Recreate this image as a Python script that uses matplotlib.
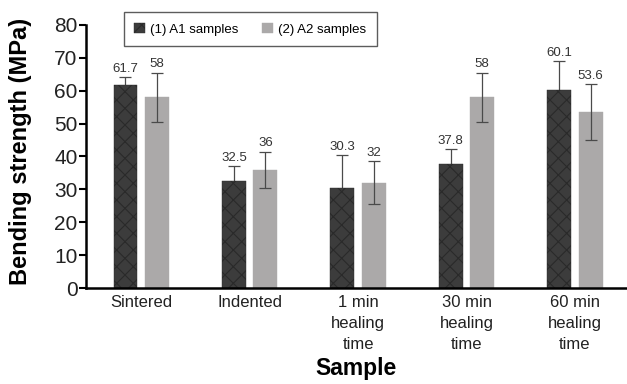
import numpy as np
import matplotlib
matplotlib.use("Agg")
import matplotlib.pyplot as plt

plt.rcParams['font.family'] = ['Liberation Sans', 'DejaVu Sans']
plt.rcParams['hatch.color'] = 'black'
plt.rcParams['hatch.linewidth'] = 0.8

# Veriler
samples = ["Sintered", "Indented", "1 min\nhealing\ntime", "30 min\nhealing\ntime", "60 min\nhealing\ntime"]
a1_values = [61.7, 32.5, 30.3, 37.8, 60.1]
a2_values = [58, 36, 32, 58, 53.6]
a1_err = [2.5, 4.5, 10.0, 4.5, 9.0]
a2_err = [7.5, 5.5, 6.5, 7.5, 8.5]
series_names = ["(1) A1 samples", "(2) A2 samples"]

fig = plt.figure(figsize=(6.27, 3.84), dpi=100)
ax = fig.add_axes([0.137, 0.25, 0.863, 0.685])

x = np.arange(len(samples))
w = 0.22
off = 0.145

b1 = ax.bar(x - off, a1_values, w, color='#3c3c3c', edgecolor='#2a2a2a', linewidth=0.3,
            hatch='xx', label=series_names[0], zorder=2)
b2 = ax.bar(x + off, a2_values, w, color='#aba9a9', edgecolor='#aba9a9', linewidth=0.3,
            label=series_names[1], zorder=2)

# A1 hata çubukları koyu çubuğun arkasında kalıyor
ax.errorbar(x - off, a1_values, yerr=a1_err, fmt='none', ecolor='#4a4a4a', elinewidth=0.9,
            capsize=4, capthick=0.9, zorder=1)
ax.errorbar(x + off, a2_values, yerr=a2_err, fmt='none', ecolor='#4a4a4a', elinewidth=0.9,
            capsize=4, capthick=0.9, zorder=3)

# Değer etiketleri
for xi, v, e in zip(x - off, a1_values, a1_err):
    ax.text(xi, v + e + 2.5, f"{v:g}", ha='center', va='center', fontsize=9.5, color='#333333')
for xi, v, e in zip(x + off, a2_values, a2_err):
    ax.text(xi, v + e + 2.5, f"{v:g}", ha='center', va='center', fontsize=9.5, color='#333333')

ax.set_xlim(-0.51, 4.48)
ax.set_ylim(0, 80)
ax.set_yticks(range(0, 81, 10))
ax.set_xticks(x)
ax.set_xticklabels(samples, fontsize=12, linespacing=1.5, color='#222222')
ax.tick_params(axis='x', length=0, pad=5)
ax.tick_params(axis='y', labelsize=15, length=5, width=1.5, pad=1, labelcolor='#222222')

for s in ['top', 'right']:
    ax.spines[s].set_visible(False)
ax.spines['left'].set_linewidth(1.8)
ax.spines['bottom'].set_linewidth(1.8)

ax.set_ylabel("Bending strength (MPa)", fontsize=17, fontweight='bold')
ax.yaxis.set_label_coords(-0.10, 0.52)
ax.set_xlabel("Sample", fontsize=16.5, fontweight='bold', labelpad=4)

leg = fig.legend(handles=[b1, b2], loc='upper left', bbox_to_anchor=(0.187, 0.985), ncol=2,
                 fontsize=9.5, frameon=True, fancybox=False, edgecolor='#333333',
                 handlelength=0.8, handleheight=0.8, handletextpad=0.4, columnspacing=1.8,
                 borderpad=0.8)
leg.get_frame().set_linewidth(1.0)

fig.savefig("out.png", dpi=100)
